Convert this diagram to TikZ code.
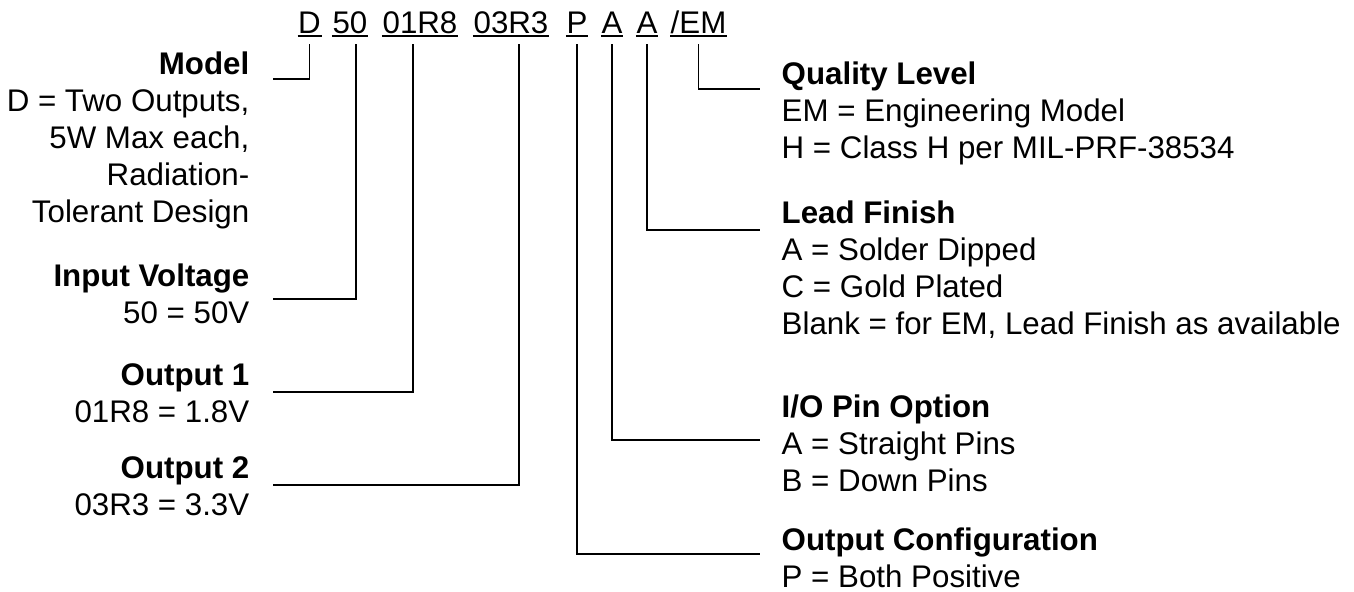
\documentclass[tikz,border=0pt]{standalone}
\usepackage{fontspec}
\setmainfont{Liberation Sans}
\usetikzlibrary{calc}
\tikzset{
	every node/.style={font=\fontsize{8.9}{10.5}\selectfont},
	code/.style={inner sep=0pt, anchor=base},
	lblleft/.style={inner sep=0pt, align=right, anchor=base east},
	lblright/.style={inner sep=0pt, align=left, anchor=base west},
	wire/.style={line width=0.5pt},
	uline/.style={line width=0.6pt}
}
\def\head#1{\textbf{#1}}

\begin{document}
\begin{tikzpicture}
			%%%%% START %%%%%
			\useasboundingbox (0,0) rectangle (13.54,-5.91);
			
			% part number
			\node[code] (cModel) at (3.095,-0.33) {D};
			\node[code] (cVin) at (3.50,-0.33) {50};
			\node[code] (cOut1) at (4.20,-0.33) {01R8};
			\node[code] (cOut2) at (5.11,-0.33) {03R3};
			\node[code] (cConf) at (5.77,-0.33) {P};
			\node[code] (cPin) at (6.12,-0.33) {A};
			\node[code] (cLead) at (6.47,-0.33) {A};
			\node[code] (cQual) at (6.985,-0.33) {/EM};
			\foreach \p in {cModel,cVin,cOut1,cOut2,cConf,cPin,cLead,cQual}
				\draw[uline] ([yshift=-0.03cm]\p.base west) -- ([yshift=-0.03cm]\p.base east);
			
			% left labels (placed by their last line)
			\node[lblleft] (lModel) at (2.50,-2.22) {\head{Model}\\D = Two Outputs,\\5W Max each,\\Radiation-\\Tolerant Design};
			\node[lblleft] (lVin) at (2.50,-3.23) {\head{Input Voltage}\\50 = 50V};
			\node[lblleft] (lOut1) at (2.50,-4.22) {\head{Output 1}\\01R8 = 1.8V};
			\node[lblleft] (lOut2) at (2.50,-5.15) {\head{Output 2}\\03R3 = 3.3V};
			
			% right labels (placed by their last line)
			\node[lblright] (lQual) at (7.81,-1.58) {\head{Quality Level}\\EM = Engineering Model\\H = Class H per MIL-PRF-38534};
			\node[lblright] (lLead) at (7.81,-3.34) {\head{Lead Finish}\\A = Solder Dipped\\C = Gold Plated\\Blank = for EM, Lead Finish as available};
			\node[lblright] (lPin) at (7.81,-4.91) {\head{I/O Pin Option}\\A = Straight Pins\\B = Down Pins};
			\node[lblright] (lConf) at (7.81,-5.87) {\head{Output Configuration}\\P = Both Positive};
			
			% taps under the code
			\coordinate (tModel) at ($(cModel.base)+(0,-0.11)$);
			\coordinate (tVin) at ($(cVin.base)+(0.06,-0.11)$);
			\coordinate (tOut1) at ($(cOut1.base)+(-0.07,-0.11)$);
			\coordinate (tOut2) at ($(cOut2.base)+(0.08,-0.11)$);
			\coordinate (tConf) at ($(cConf.base)+(0,-0.11)$);
			\coordinate (tPin) at ($(cPin.base)+(0,-0.11)$);
			\coordinate (tLead) at ($(cLead.base)+(0,-0.11)$);
			\coordinate (tQual) at ($(cQual.base)+(0,-0.11)$);
			
			% line ends beside the labels
			\coordinate (eModel) at (2.73,-0.79);
			\coordinate (eVin) at (2.73,-2.99);
			\coordinate (eOut1) at (2.73,-3.92);
			\coordinate (eOut2) at (2.73,-4.85);
			\coordinate (eQual) at (7.60,-0.89);
			\coordinate (eLead) at (7.60,-2.30);
			\coordinate (ePin) at (7.60,-4.40);
			\coordinate (eConf) at (7.60,-5.54);
			
			\draw[wire] (tModel) |- (eModel);
			\draw[wire] (tVin) |- (eVin);
			\draw[wire] (tOut1) |- (eOut1);
			\draw[wire] (tOut2) |- (eOut2);
			\draw[wire] (tQual) |- (eQual);
			\draw[wire] (tLead) |- (eLead);
			\draw[wire] (tPin) |- (ePin);
			\draw[wire] (tConf) |- (eConf);
			
			%%%%% END %%%%%
\end{tikzpicture}
\end{document}
